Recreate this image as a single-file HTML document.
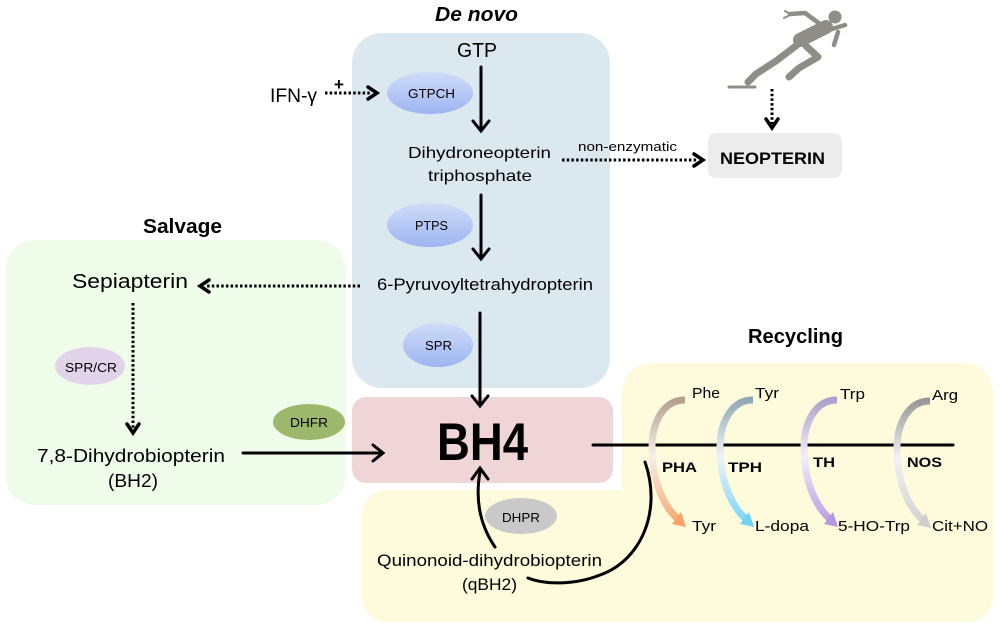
<!DOCTYPE html>
<html><head><meta charset="utf-8"><style>
html,body{margin:0;padding:0;background:#fff;}
svg{display:block;}
text{font-family:"Liberation Sans",sans-serif;fill:#000;}
</style></head><body>
<svg width="1000" height="627" viewBox="0 0 1000 627" xmlns="http://www.w3.org/2000/svg">
<defs>
<linearGradient id="blueE" x1="0" y1="0" x2="0" y2="1"><stop offset="0" stop-color="#cfdcf8"/><stop offset="1" stop-color="#9db5f2"/></linearGradient>
<linearGradient id="gPhe" gradientUnits="userSpaceOnUse" x1="0" y1="398" x2="0" y2="528"><stop offset="0" stop-color="#b39d8c"/><stop offset="0.45" stop-color="#f6f0ea"/><stop offset="1" stop-color="#f8a268"/></linearGradient>
<linearGradient id="gTyr" gradientUnits="userSpaceOnUse" x1="0" y1="398" x2="0" y2="528"><stop offset="0" stop-color="#8ea6b4"/><stop offset="0.45" stop-color="#eef4f7"/><stop offset="1" stop-color="#6fd3f6"/></linearGradient>
<linearGradient id="gTrp" gradientUnits="userSpaceOnUse" x1="0" y1="398" x2="0" y2="528"><stop offset="0" stop-color="#ab9dc9"/><stop offset="0.45" stop-color="#f1eef7"/><stop offset="1" stop-color="#b696e0"/></linearGradient>
<linearGradient id="gArg" gradientUnits="userSpaceOnUse" x1="0" y1="398" x2="0" y2="528"><stop offset="0" stop-color="#959595"/><stop offset="0.45" stop-color="#f2f2f2"/><stop offset="1" stop-color="#cfcfcf"/></linearGradient>
</defs>

<!-- background panels -->
<rect x="5" y="240" width="341" height="265" rx="30" fill="#effcea"/>
<rect x="352" y="33" width="258" height="355" rx="30" fill="#dce8ef"/>
<rect x="622" y="363" width="371" height="259" rx="30" fill="#fdfbdc"/>
<rect x="362" y="490" width="631" height="132" rx="25" fill="#fdfbdc"/>
<rect x="352" y="397" width="261" height="86" rx="14" fill="#efd5d5"/>
<rect x="708" y="133" width="134" height="45" rx="8" fill="#ececec"/>

<!-- titles -->
<text x="435" y="21" font-size="20" font-weight="bold" font-style="italic" textLength="83" lengthAdjust="spacingAndGlyphs">De novo</text>
<text x="143" y="233" font-size="20" font-weight="bold" textLength="79" lengthAdjust="spacingAndGlyphs">Salvage</text>
<text x="748" y="343" font-size="20" font-weight="bold" textLength="95" lengthAdjust="spacingAndGlyphs">Recycling</text>

<!-- runner -->
<g stroke="#8f8e86" stroke-linecap="round" stroke-linejoin="round" fill="none">
  <path d="M729 87 L755 87" stroke-width="3"/>
  <path d="M748 82 L756 74 L776 61 L797 45" stroke-width="7"/>
  <path d="M800 40 L826 27" stroke-width="14"/>
  <path d="M806 46 L818 57 L799 68 L789 77" stroke-width="7"/>
  <path d="M820 24 L805 13 L790 14" stroke-width="4.5"/>
  <path d="M790 14 L785 11 M790 15 L784 18" stroke-width="2"/>
  <path d="M832 29 L845 25" stroke-width="4.5"/>
  <path d="M838 32 L834 45" stroke-width="4.5"/>
</g>
<circle cx="835" cy="17" r="6.5" fill="#8f8e86"/>

<!-- dotted arrows -->
<g stroke="#000" stroke-width="3" stroke-dasharray="2.5 2.2" fill="none">
  <line x1="325" y1="93" x2="372" y2="93"/>
  <line x1="562" y1="160" x2="697" y2="160"/>
  <line x1="772" y1="89" x2="772" y2="124"/>
  <line x1="360" y1="286" x2="205" y2="286"/>
  <line x1="133" y1="303" x2="133" y2="428"/>
</g>
<g stroke="#000" stroke-width="3.5" fill="none" stroke-linecap="round" stroke-linejoin="miter">
  <polyline points="368,87 377,93 368,99"/>
  <polyline points="694,154 703,160 694,166"/>
  <polyline points="766,119 772,128 778,119"/>
  <polyline points="209,280 200,286 209,292"/>
  <polyline points="127,424 133,433 139,424"/>
</g>
<text x="334" y="90" font-size="17" font-weight="bold">+</text>

<!-- solid arrows -->
<g stroke="#000" stroke-width="3" fill="none" stroke-linecap="round">
  <line x1="481" y1="67" x2="481" y2="130"/>
  <polyline points="473,121 481,131 489,121"/>
  <line x1="481" y1="195" x2="481" y2="258"/>
  <polyline points="473,249 481,259 489,249"/>
  <line x1="480" y1="313" x2="480" y2="405"/>
  <polyline points="472,396 480,406 488,396"/>
  <line x1="243" y1="453" x2="382" y2="453"/>
  <polyline points="373,445 383,453 373,461"/>
  <line x1="593" y1="445" x2="953" y2="445"/>
  <path d="M495 547 C480 525 475 500 480 472"/>
  <polyline points="472,479 480,468 488,479"/>
  <path d="M645 462 C662 510 642 560 600 575 C575 585 545 585 528 578"/>
</g>

<!-- enzymes -->
<ellipse cx="430" cy="93" rx="43" ry="21" fill="url(#blueE)"/>
<ellipse cx="430" cy="225" rx="43" ry="22" fill="url(#blueE)"/>
<ellipse cx="438" cy="345" rx="35" ry="22" fill="url(#blueE)"/>
<ellipse cx="90" cy="366" rx="35" ry="19" fill="#e1d4ea"/>
<ellipse cx="309" cy="422" rx="36" ry="18" fill="#9cb86c"/>
<ellipse cx="521" cy="516" rx="36" ry="18" fill="#c9c9c9"/>
<g font-size="13">
<text x="408" y="98" textLength="47" lengthAdjust="spacingAndGlyphs">GTPCH</text>
<text x="415" y="230" textLength="33" lengthAdjust="spacingAndGlyphs">PTPS</text>
<text x="425" y="350" textLength="27" lengthAdjust="spacingAndGlyphs">SPR</text>
<text x="65" y="372" textLength="52" lengthAdjust="spacingAndGlyphs">SPR/CR</text>
<text x="290" y="427" textLength="38" lengthAdjust="spacingAndGlyphs">DHFR</text>
<text x="502" y="522" textLength="38" lengthAdjust="spacingAndGlyphs">DHPR</text>
</g>

<!-- metabolites -->
<text x="457" y="57" font-size="20" textLength="40" lengthAdjust="spacingAndGlyphs">GTP</text>
<text x="270" y="102" font-size="19" textLength="47" lengthAdjust="spacingAndGlyphs">IFN-γ</text>
<text x="408" y="158" font-size="16" textLength="143" lengthAdjust="spacingAndGlyphs">Dihydroneopterin</text>
<text x="428" y="181" font-size="16" textLength="104" lengthAdjust="spacingAndGlyphs">triphosphate</text>
<text x="578" y="151" font-size="13" textLength="99" lengthAdjust="spacingAndGlyphs">non-enzymatic</text>
<text x="720" y="164" font-size="17" font-weight="bold" textLength="105" lengthAdjust="spacingAndGlyphs">NEOPTERIN</text>
<text x="377" y="290" font-size="17" textLength="216" lengthAdjust="spacingAndGlyphs">6-Pyruvoyltetrahydropterin</text>
<text x="72" y="288" font-size="20" textLength="116" lengthAdjust="spacingAndGlyphs">Sepiapterin</text>
<text x="37" y="462" font-size="18" textLength="188" lengthAdjust="spacingAndGlyphs">7,8-Dihydrobiopterin</text>
<text x="108" y="487" font-size="18" textLength="50" lengthAdjust="spacingAndGlyphs">(BH2)</text>
<text x="437" y="460" font-size="53" font-weight="bold" textLength="91" lengthAdjust="spacingAndGlyphs">BH4</text>
<text x="377" y="566" font-size="17" textLength="225" lengthAdjust="spacingAndGlyphs">Quinonoid-dihydrobiopterin</text>
<text x="462" y="590" font-size="17" textLength="55" lengthAdjust="spacingAndGlyphs">(qBH2)</text>

<!-- recycling arcs -->
<g fill="none" stroke-width="7">
  <path d="M685 400 C662 400 652 425 652 447 C652 478 662 505 678 519" stroke="url(#gPhe)"/>
  <g transform="translate(68,0)"><path d="M685 400 C662 400 652 425 652 447 C652 478 662 505 678 519" stroke="url(#gTyr)"/></g>
  <g transform="translate(152,0)"><path d="M685 400 C662 400 652 425 652 447 C652 478 662 505 678 519" stroke="url(#gTrp)"/></g>
  <g transform="translate(245,1)"><path d="M685 400 C662 400 652 425 652 447 C652 478 662 505 678 519" stroke="url(#gArg)"/></g>
</g>
<polygon points="686,527 681,512 672,524" fill="#f8a268"/>
<polygon points="754,527 749,512 740,524" fill="#6fd3f6"/>
<polygon points="838,527 833,512 824,524" fill="#b696e0"/>
<polygon points="931,528 926,513 917,525" fill="#cfcfcf"/>

<g font-size="15">
<text x="692" y="398" textLength="28" lengthAdjust="spacingAndGlyphs">Phe</text>
<text x="755" y="398" textLength="24" lengthAdjust="spacingAndGlyphs">Tyr</text>
<text x="840" y="399" textLength="25" lengthAdjust="spacingAndGlyphs">Trp</text>
<text x="932" y="400" textLength="26" lengthAdjust="spacingAndGlyphs">Arg</text>
<text x="692" y="531" textLength="24" lengthAdjust="spacingAndGlyphs">Tyr</text>
<text x="755" y="531" textLength="54" lengthAdjust="spacingAndGlyphs">L-dopa</text>
<text x="838" y="531" textLength="72" lengthAdjust="spacingAndGlyphs">5-HO-Trp</text>
<text x="932" y="531" textLength="56" lengthAdjust="spacingAndGlyphs">Cit+NO</text>
</g>
<g font-size="14" font-weight="bold">
<text x="662" y="472" textLength="35" lengthAdjust="spacingAndGlyphs">PHA</text>
<text x="728" y="472" textLength="34" lengthAdjust="spacingAndGlyphs">TPH</text>
<text x="813" y="467" textLength="22" lengthAdjust="spacingAndGlyphs">TH</text>
<text x="907" y="467" textLength="35" lengthAdjust="spacingAndGlyphs">NOS</text>
</g>
</svg>
</body></html>
